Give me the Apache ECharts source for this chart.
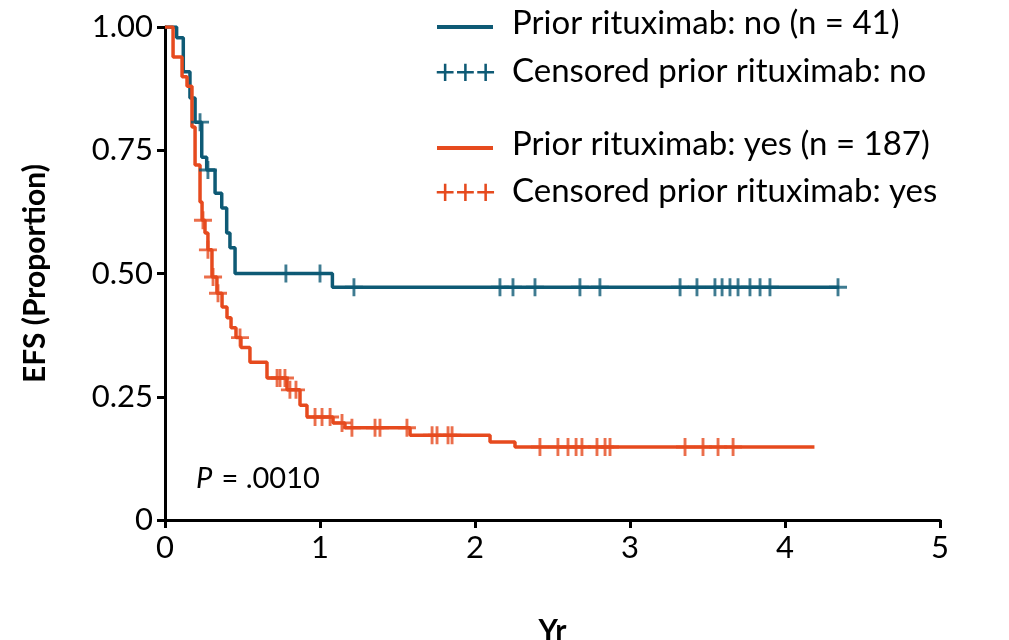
<!DOCTYPE html>
<html><head><meta charset="utf-8">
<script src="https://cdn.jsdelivr.net/npm/echarts@6/dist/echarts.min.js"></script>
<style>html,body{margin:0;padding:0;background:#fff}#main{width:1009px;height:640px}</style>
</head><body><div id="main"></div>
<script>
// step points: [time (yr), proportion]
var noTimes = [0, 0.06, 0.075, 0.118, 0.161, 0.194, 0.237, 0.269, 0.323, 0.366, 0.398, 0.419, 0.452, 1.08, 4.35];
var noSurv  = [1.0, 1.0, 0.978, 0.909, 0.856, 0.807, 0.736, 0.71, 0.663, 0.633, 0.582, 0.552, 0.50, 0.472, 0.472];
var noCens  = [0.226, 0.277, 0.78, 1.0, 1.219, 2.161, 2.245, 2.387, 2.677, 2.806, 3.323, 3.432, 3.548, 3.594, 3.645, 3.697, 3.774, 3.839, 3.903, 4.342];

var yesTimes = [0, 0.052, 0.110, 0.142, 0.174, 0.194, 0.226, 0.239, 0.258, 0.277, 0.303, 0.335, 0.368, 0.4, 0.426, 0.458, 0.490, 0.548, 0.658, 0.787, 0.871, 0.916, 1.084, 1.161, 1.581, 2.097, 2.258, 4.19];
var yesSurv  = [1.0, 0.939, 0.899, 0.88, 0.797, 0.72, 0.645, 0.608, 0.582, 0.548, 0.493, 0.46, 0.432, 0.41, 0.39, 0.37, 0.35, 0.32, 0.288, 0.264, 0.233, 0.209, 0.197, 0.187, 0.172, 0.158, 0.148, 0.148];
var yesCens  = [0.245, 0.277, 0.31, 0.342, 0.484, 0.723, 0.742, 0.774, 0.806, 0.845, 0.968, 1.013, 1.065, 1.142, 1.206, 1.355, 1.387, 1.561, 1.723, 1.755, 1.826, 1.852, 2.419, 2.535, 2.6, 2.652, 2.690, 2.787, 2.839, 2.871, 3.355, 3.471, 3.568, 3.665];

var yTickLabels = {0: '0', 0.25: '0.25', 0.5: '0.50', 0.75: '0.75', 1: '1.00'};

var blue = '#0e5a75', orange = '#e64a1e';
var FONT = 'Lato';
var FS = 31, LFS = 33;

function survAt(times, surv, t) {
  var s = surv[0];
  for (var i = 0; i < times.length; i++) { if (times[i] <= t) s = surv[i]; }
  return s;
}
function pairs(a, b) { return a.map(function (v, i) { return [v, b[i]]; }); }
function cens(times, surv, c) { return c.map(function (t) { return [t, survAt(times, surv, t)]; }); }

var plus = 'path://M4.2,0h1.6v10h-1.6zM0,4.2h10v1.6h-10z';

var chart = echarts.init(document.getElementById('main'));
chart.setOption({
  animation: false,
  textStyle: { fontFamily: FONT },
  grid: { left: 165, right: 69, top: 27, bottom: 120, outerBoundsMode: 'none', containLabel: false },
  xAxis: {
    type: 'value', min: 0, max: 5, interval: 1,
    name: 'Yr', nameLocation: 'middle', nameGap: 96,
    nameTextStyle: { fontSize: 30, fontWeight: 'bold', color: '#000', fontFamily: FONT },
    axisLine: { lineStyle: { color: '#000', width: 3 } },
    axisTick: { length: 8, lineStyle: { color: '#000', width: 3 } },
    axisLabel: { fontSize: FS, color: '#000', margin: 12 },
    splitLine: { show: false }
  },
  yAxis: {
    type: 'value', min: 0, max: 1, interval: 0.25,
    name: 'EFS (Proportion)', nameLocation: 'middle', nameGap: 115, nameRotate: 90,
    nameTextStyle: { fontSize: 30, fontWeight: 'bold', color: '#000', fontFamily: FONT },
    axisLine: { show: true, lineStyle: { color: '#000', width: 3 } },
    axisTick: { show: true, length: 8, lineStyle: { color: '#000', width: 3 } },
    axisLabel: { fontSize: FS, color: '#000', margin: 12, formatter: function (v) { return yTickLabels[v]; } },
    splitLine: { show: false }
  },
  series: [
    { type: 'line', step: 'end', data: pairs(noTimes, noSurv), showSymbol: false, lineStyle: { color: blue, width: 3.5 }, z: 3 },
    { type: 'scatter', data: cens(noTimes, noSurv, noCens), symbol: plus, symbolSize: 18, itemStyle: { color: blue }, z: 4 },
    { type: 'line', step: 'end', data: pairs(yesTimes, yesSurv), showSymbol: false, lineStyle: { color: orange, width: 3.5 }, z: 3 },
    { type: 'scatter', data: cens(yesTimes, yesSurv, yesCens), symbol: plus, symbolSize: 18, itemStyle: { color: orange }, z: 4 }
  ],
  graphic: [
    { type: 'line', shape: { x1: 437, y1: 27, x2: 493, y2: 27 }, style: { stroke: blue, lineWidth: 4 } },
    { type: 'text', left: 512, top: 7, style: { text: 'Prior rituximab: no (n = 41)', fontSize: LFS, fill: '#000', fontFamily: FONT } },
    { type: 'text', left: 435, top: 55, style: { text: '+++', fontSize: LFS + 2, fill: blue, fontFamily: FONT } },
    { type: 'text', left: 512, top: 55, style: { text: 'Censored prior rituximab: no', fontSize: LFS, fill: '#000', fontFamily: FONT } },
    { type: 'line', shape: { x1: 437, y1: 148, x2: 493, y2: 148 }, style: { stroke: orange, lineWidth: 4 } },
    { type: 'text', left: 512, top: 128, style: { text: 'Prior rituximab: yes (n = 187)', fontSize: LFS, fill: '#000', fontFamily: FONT } },
    { type: 'text', left: 435, top: 175, style: { text: '+++', fontSize: LFS + 2, fill: orange, fontFamily: FONT } },
    { type: 'text', left: 512, top: 175, style: { text: 'Censored prior rituximab: yes', fontSize: LFS, fill: '#000', fontFamily: FONT } },
    { type: 'text', left: 196, top: 464, style: { text: 'P', fontSize: 29, fontStyle: 'italic', fill: '#000', fontFamily: FONT } },
    { type: 'text', left: 214, top: 464, style: { text: ' = .0010', fontSize: 29, fill: '#000', fontFamily: FONT } }
  ]
});
</script></body></html>
